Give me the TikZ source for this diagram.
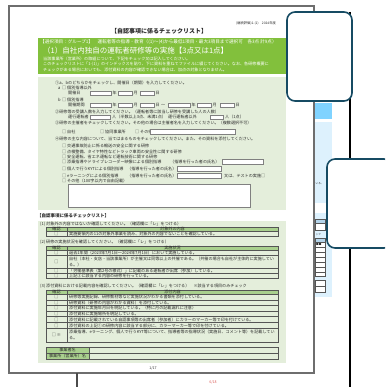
\documentclass[tikz,border=0pt]{standalone}
\usepackage{fontspec}
\setmainfont{Noto Sans CJK JP}
\definecolor{leaf}{HTML}{82C03C}
\definecolor{pale}{HTML}{E4EEDB}
\definecolor{hdrgreen}{HTML}{A9D08E}
\definecolor{framegray}{HTML}{6E6E6E}
\definecolor{tealline}{HTML}{164B63}
\definecolor{skyA}{HTML}{80D3FF}
\definecolor{skyB}{HTML}{DDF1FD}
\definecolor{skyC}{HTML}{B4D4EA}
\definecolor{ink}{HTML}{2B2B2B}
\definecolor{pagered}{HTML}{D9534F}
\tikzstyle{txt} = [inner sep=0pt,anchor=west,text=ink,font=\fontsize{4.1}{4.6}\selectfont]
\tikzstyle{wtxt} = [txt,text=white]
\tikzstyle{ctr} = [txt,anchor=center]
\tikzstyle{field} = [draw=ink!60,fill=white,line width=.4pt]
\tikzstyle{grid} = [draw=ink!80,line width=.45pt]
\tikzstyle{pageframe} = [draw=framegray,line width=1.8pt,fill=white]
\tikzstyle{card} = [draw=tealline,line width=1.6pt,fill=white,rounded corners=8pt]

\begin{document}
\begin{tikzpicture}[x=1pt,y=-1pt]
\useasboundingbox (0,0) rectangle (385,387);
\clip (0,0) rectangle (385,387);

\draw[pageframe] (9,6) rectangle (314,373);
\draw[draw=ink!85,line width=2pt] (77,373) -- (77,387);

\node[txt,font=\fontsize{3.3}{4}\selectfont] (form) at (236,23) {(継続評価)1-(1)　2024年度};
\node[ctr,font=\bfseries\fontsize{6}{7}\selectfont] (title) at (159,31) {【自認事項に係るチェックリスト】};

\fill[leaf] (38,38) rectangle (286,74);
\node[wtxt,font=\fontsize{4.6}{5}\selectfont] (sel) at (40,42) {【選択項目：グループ1】　運転者等の指導・教育（(1)～(4)から最低1項目・最大3項目まで選択可　各3点 計9点）};
\node[wtxt,font=\fontsize{7.5}{8}\selectfont] (head) at (43,51) {（1）自社内独自の運転者研修等の実施【3点又は1点】};
\node[wtxt] (note1) at (43,59) {当該事業所（営業所）の取組について、下記をチェック又は記入してください。};
\node[wtxt] (note2) at (43,64.5) {このチェックリストに「1-(1)」のインデックスを貼り、下に資料を重ねてファイルに綴じてください。なお、各研修概要に};
\node[wtxt] (note3) at (43,70) {チェックがある場合においても、添付資料の内容が確認できない場合は、加点の対象となりません。};

\fill[pale] (38,77) rectangle (286,210);
\node[txt] (q1) at (55,83) {①a、bのどちらかをチェックし、開催日（期間）を入力してください。};
\node[txt] (qa) at (58,88) {a};
\node[txt] (qat) at (62,88) {□ 個別指導以外};
\node[txt] (day) at (68,93.2) {開催日};
\draw[field] (90,91) rectangle (111,95.5) (118,91) rectangle (132,95.5) (140,91) rectangle (154,95.5);
\node[txt] (dayy) at (112.5,93.2) {年};
\node[txt] (daym) at (133.5,93.2) {月};
\node[txt] (dayd) at (155.5,93.2) {日};
\node[txt] (qb) at (58,99.5) {b};
\node[txt] (qbt) at (62,99.5) {□ 個別指導};
\node[txt] (span) at (68,105.2) {開催期間};
\draw[field] (90,103) rectangle (111,107.5) (118,103) rectangle (132,107.5) (140,103) rectangle (154,107.5);
\node[txt] (spany) at (112.5,105.2) {年};
\node[txt] (spanm) at (133.5,105.2) {月};
\node[txt] (spand) at (155.5,105.2) {日};
\node[txt] (tilde) at (161,105.2) {～};
\draw[field] (168,103) rectangle (190,107.5) (197,103) rectangle (211,107.5) (220,103) rectangle (234,107.5);
\node[txt] (endy) at (191.5,105.2) {年};
\node[txt] (endm) at (212.5,105.2) {月};
\node[txt] (endd) at (235.5,105.2) {日};

\node[txt] (q2) at (55,112) {②研修等の受講人数を入力してください。（運転者等に該当し研修を受講した人の人数）};
\node[txt] (drv) at (68,117.2) {運行運転者};
\draw[field] (90,115) rectangle (110,119.5) (210,115) rectangle (223,119.5);
\node[txt] (drvn) at (112,117.2) {人（半数以上3点、未満1点）};
\node[txt] (oth) at (168,117.2) {運行運転者以外};
\node[txt] (othn) at (225,117.2) {人（1点）};

\node[txt] (q3) at (55,123) {③研修の主催者をチェックしてください。その他の場合は主催者名を入力してください。（複数選択不可）};
\node[txt] (own) at (62,131.5) {□ 自社};
\node[txt] (coop) at (100,131.5) {□ 協同事業所};
\node[txt] (else) at (135,131.5) {□ その他};
\draw[field] (150,129) rectangle (235,134);

\node[txt] (q4) at (55,139) {④研修の主な内容について、当てはまるものをチェックしてください。また、その資料を添付してください。};
\node[txt] (c1) at (62,146) {□ 交通事故防止に係る輸送の安全に関する研修};
\node[txt] (c2) at (62,151.5) {□ 点検整備、タイヤ特性などトラック車両の安全性に関する研修};
\node[txt] (c3) at (62,156.5) {□ 安全運転、省エネ運転など運転技術に関する研修};
\node[txt] (c4) at (62,161.5) {□ 添乗指導やドライブレコーダー映像による個別指導};
\node[txt] (c4n) at (170,161.5) {（指導を行った者の氏名）};
\draw[field] (222,159) rectangle (263,164);
\node[txt] (c5) at (62,168.5) {□ 個人で行うKYTによる個別指導};
\node[txt] (c5n) at (127,168.5) {（指導を行った者の氏名）};
\draw[field] (177,166) rectangle (221,171);
\node[txt] (c6) at (62,175.5) {□ eラーニングによる個別指導};
\node[txt] (c6n) at (127,175.5) {（指導を行った者の氏名）};
\draw[field] (177,173) rectangle (221,178);
\node[txt] (c6t) at (224,175.5) {又は、テストの実施□};
\node[txt] (c7) at (62,181) {□ その他（100字以内で自由記載）};
\draw[field] (68,184) rectangle (250,207);

\node[txt,font=\bfseries\fontsize{4.5}{5}\selectfont] (sub) at (37,216) {【自認事項に係るチェックリスト】};

\fill[pale] (38,221) rectangle (286,363);
\node[txt] (t1) at (40,224) {(1) 対象外の内容ではないか確認してください。（確認欄に「レ」をつける）};
\fill[hdrgreen] (46,227) rectangle (278,231);
\draw[grid] (46,227) rectangle (278,236) (46,231) -- (278,231) (67,227) -- (67,236);
\node[ctr] (t1h1) at (56.5,229) {確認};
\node[ctr] (t1h2) at (172.5,229) {対象外の内容};
\node[ctr] (t1b) at (56.5,233.5) {□};
\node[txt] (t1r) at (69,233.5) {実施要領内の11の対象外事業を読み、対象外の内容でないことを確認している。};

\node[txt] (t2) at (40,242) {(2) 研修の実施状況を確認してください。（確認欄に「レ」をつける）};
\fill[hdrgreen] (46,246) rectangle (278,250);
\draw[grid] (46,246) rectangle (278,278) (46,250) -- (278,250) (46,255) -- (278,255)
  (46,268) -- (278,268) (46,273) -- (278,273) (67,246) -- (67,278);
\node[ctr] (t2h1) at (56.5,248) {確認};
\node[ctr] (t2h2) at (172.5,248) {実施状況};
\node[ctr] (t2b1) at (56.5,252.5) {□};
\node[txt] (t2r1) at (69,252.5) {過去1年間（2023年7月1日～2024年7月1日）において実施している。};
\node[ctr] (t2b2) at (56.5,261.5) {□};
\node[txt] (t2r2) at (69,259) {自社（本社・支店・当該事業所）が主催又は同等以上の共催である。（共催の場合も自社が主体的に実施してい};
\node[txt] (t2r2b) at (69,264.5) {る。）};
\node[ctr] (t2b3) at (56.5,270.5) {□};
\node[txt] (t2r3) at (69,270.5) {「労働基準表（第2号の様式）」に記載のある運転者が出席（参加）している。};
\node[ctr] (t2b4) at (56.5,275.5) {□};
\node[txt] (t2r4) at (69,275.5) {上記③に該当する内容の研修を行っている。};

\node[txt] (t3) at (40,286) {(3) 添付資料における記載内容を確認してください。（確認欄に「レ」をつける）　※該当する項目のみチェック};
\fill[hdrgreen] (46,290) rectangle (278,294.5);
\draw[grid] (46,290) rectangle (278,342) (46,294.5) -- (278,294.5) (46,300) -- (278,300)
  (46,305.5) -- (278,305.5) (46,311) -- (278,311) (46,316.5) -- (278,316.5)
  (46,322.5) -- (278,322.5) (46,328.5) -- (278,328.5) (67,290) -- (67,342);
\node[ctr] (t3h1) at (56.5,292.2) {確認};
\node[ctr] (t3h2) at (172.5,292.2) {添付内容};
\node[ctr] (t3b1) at (56.5,297.2) {□};
\node[txt] (t3r1) at (69,297.2) {研修等実施記録、研修教材等など実施状況がわかる書類を添付している。};
\node[ctr] (t3b2) at (56.5,302.7) {□};
\node[txt] (t3r2) at (69,302.7) {研修資料（研修の内容がわかる資料）を添付している。};
\node[ctr] (t3b3) at (56.5,308.2) {□};
\node[txt] (t3r3) at (69,308.2) {添付資料に実施年月日を明記している。（特に月の記載漏れに注意）};
\node[ctr] (t3b4) at (56.5,313.7) {□};
\node[txt] (t3r4) at (69,313.7) {添付資料に実施場所を明記している。};
\node[ctr] (t3b5) at (56.5,319.5) {□};
\node[txt] (t3r5) at (69,319.5) {添付資料に記載されている自認事項等の出席者（参加者）にカラーのマーカー等で印を付けている。};
\node[ctr] (t3b6) at (56.5,325.5) {□};
\node[txt] (t3r6) at (69,325.5) {添付資料の上記①の研修内容に該当する部分に、カラーマーカー等で印を付けている。};
\node[ctr] (t3b7) at (56.5,335) {□ ※};
\node[txt] (t3r7) at (69,332) {添乗指導、eラーニング、個人で行うKYT等について、指導者等の指導状況（実施日、コメント等）を記載してい};
\node[txt] (t3r7b) at (69,338) {る。};

\fill[hdrgreen] (46,347) rectangle (89,359);
\draw[grid] (46,347) rectangle (278,359) (46,353) -- (278,353) (89,347) -- (89,359);
\node[ctr] (biz) at (67.5,350) {事業者名};
\node[ctr] (office) at (67.5,356) {事業所（営業所）名};

\node[ctr,font=\fontsize{3.6}{4}\selectfont] (pg) at (153,368) {1/17};
\node[ctr,text=pagered,font=\fontsize{3.6}{4}\selectfont] (pgall) at (213,382) {6/18};

\fill[skyA] (315,103) rectangle (332,119);
\fill[skyB] (315,122) rectangle (332,203);
\fill[skyB] (315,213) rectangle (332,297);
\node[txt,font=\fontsize{2.6}{3}\selectfont] (frag1) at (315.5,184) {いる。};
\fill[skyC] (315,219) rectangle (325,223.5);
\fill[white] (315,223.5) rectangle (325,230);
\draw[grid] (315,219) rectangle (325,230) (315,223.5) -- (325,223.5);
\node[txt,font=\fontsize{2.6}{3}\selectfont] (frag2) at (315.5,234.5) {ック};
\fill[skyC] (315,238) rectangle (325,242);
\fill[white] (315,242) rectangle (325,276);
\draw[grid] (315,238) rectangle (325,276) (315,242) -- (325,242) (315,247) -- (325,247)
  (315,252) -- (325,252) (315,257) -- (325,257) (315,262) -- (325,262)
  (315,267) -- (325,267) (315,272) -- (325,272);
\node[txt,font=\fontsize{2.6}{3}\selectfont] (frag3) at (316,244.5) {■■};
\fill[white] (315,280) rectangle (325,292.5);
\draw[grid] (315,280) rectangle (325,292.5) (315,286) -- (325,286);

\draw[line width=1.1pt] (350,12) -- (350,387);
\draw[card] (287,12) rectangle (352,101);
\draw[card] (327,159) rectangle (392,248);

\end{tikzpicture}
\end{document}
